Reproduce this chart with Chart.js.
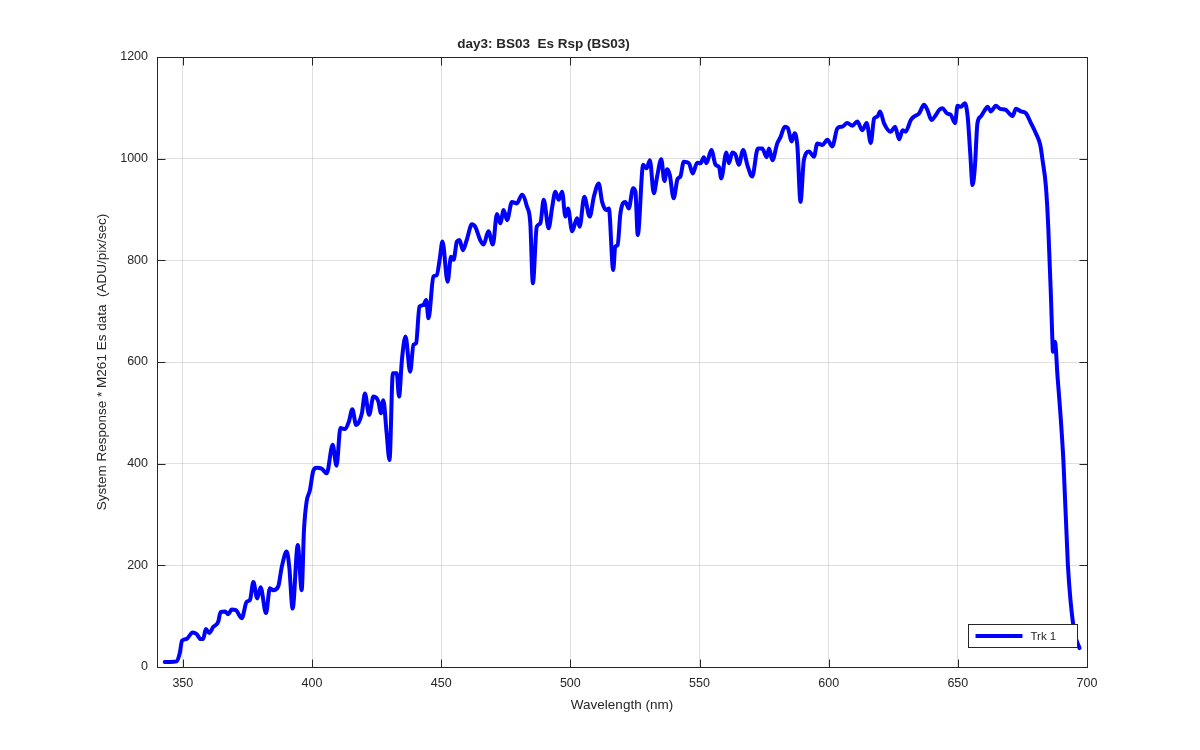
<!DOCTYPE html>
<html>
<head>
<meta charset="utf-8">
<script src="https://cdn.jsdelivr.net/npm/chart.js@4.4.1/dist/chart.umd.min.js"></script>
<style>
  html, body { margin: 0; padding: 0; background: #fff; }
  #wrap { width: 1200px; height: 750px; }
</style>
</head>
<body>
<div id="wrap"><canvas id="chartRsp"></canvas></div>
<script>
// wavelength (nm)
const wavelength = [
    343.0, 345.0, 347.6, 348.8, 349.7, 351.4, 353.8, 355.3, 356.9, 357.9,
    358.9, 360.2, 361.8, 363.7, 364.6, 366.3, 367.6, 368.9, 370.5, 372.8,
    374.7, 376.0, 377.3, 378.8, 380.1, 382.2, 383.7, 385.0, 386.9, 388.3,
    390.2, 391.2, 392.5, 394.5, 396.0, 396.9, 397.9, 399.2, 400.5, 401.8,
    403.8, 405.7, 408.0, 409.5, 411.0, 412.8, 414.3, 415.6, 417.1, 419.3,
    420.5, 422.1, 423.8, 425.7, 426.7, 427.6, 428.9, 430.0, 431.3, 432.8,
    433.7, 434.8, 436.2, 438.0, 439.3, 440.3, 441.6, 443.1, 444.2, 445.1,
    447.0, 448.3, 449.4, 450.5, 452.5, 453.8, 454.8, 456.1, 457.1, 458.4,
    459.9, 461.9, 463.2, 465.1, 466.4, 468.3, 470.0, 471.6, 472.9, 474.2,
    475.5, 477.4, 479.3, 481.3, 483.2, 484.5, 485.5, 487.0, 488.4, 489.7,
    491.6, 492.9, 494.2, 495.5, 496.8, 498.1, 499.1, 500.7, 502.6, 503.6,
    505.4, 507.5, 509.1, 511.0, 512.3, 514.0, 514.9, 516.6, 517.4, 518.3,
    519.4, 521.3, 522.6, 524.3, 525.2, 526.1, 528.2, 529.5, 530.8, 532.3,
    533.6, 535.2, 536.4, 537.5, 538.5, 540.0, 541.5, 542.6, 543.9, 545.9,
    547.4, 549.1, 550.4, 551.7, 552.7, 554.6, 556.2, 557.6, 558.4, 560.4,
    561.4, 562.7, 564.0, 565.2, 566.9, 568.5, 570.4, 572.6, 574.3, 576.0,
    576.9, 578.2, 580.1, 581.4, 583.0, 584.2, 585.7, 586.8, 587.9, 589.1,
    590.4, 592.4, 594.3, 595.6, 597.6, 599.5, 601.4, 603.4, 605.3, 607.2,
    609.2, 611.1, 613.0, 614.7, 616.3, 617.6, 618.9, 619.9, 621.4, 624.0,
    625.7, 627.3, 628.6, 629.8, 631.8, 633.1, 635.0, 636.9, 638.2, 639.8,
    641.5, 642.8, 644.1, 645.8, 647.3, 648.9, 649.9, 651.2, 652.7, 653.8,
    654.8, 655.7, 656.6, 657.6, 658.9, 660.5, 661.5, 662.8, 664.7, 666.4,
    668.6, 669.9, 671.2, 672.5, 674.4, 676.4, 678.3, 680.2, 681.9, 682.8,
    684.1, 685.0, 686.0, 686.6, 686.8, 687.6, 688.6, 689.6, 690.9, 692.6,
    693.6, 695.2, 697.1
];

// system response * M261 Es data (ADU/pix/sec)
const response = [
    10, 10, 11, 27, 52, 55, 68, 65, 55, 55,
    75, 67, 79, 89, 108, 109, 104, 113, 112, 96,
    128, 132, 167, 135, 157, 106, 155, 151, 158, 197,
    227, 197, 115, 240, 151, 270, 325, 348, 386, 392,
    390, 381, 437, 396, 470, 468, 483, 507, 476, 499,
    538, 496, 532, 522, 499, 525, 460, 407, 578, 578,
    532, 604, 650, 581, 634, 637, 709, 712, 722, 686,
    768, 771, 801, 837, 758, 807, 801, 837, 840, 820,
    840, 871, 866, 840, 831, 857, 831, 891, 873, 899,
    879, 915, 912, 929, 906, 873, 755, 866, 873, 919,
    863, 902, 935, 919, 935, 886, 902, 857, 883, 866,
    925, 886, 925, 951, 915, 899, 902, 781, 827, 830,
    893, 915, 902, 942, 935, 850, 988, 981, 997, 932,
    965, 999, 956, 979, 968, 922, 960, 965, 994, 991,
    971, 992, 991, 1003, 991, 1017, 988, 983, 961, 1012,
    991, 1012, 1007, 988, 1017, 988, 965, 1020, 1020, 1003,
    1020, 997, 1030, 1043, 1063, 1060, 1034, 1050, 1024, 915,
    997, 1014, 1004, 1030, 1027, 1037, 1024, 1060, 1063, 1070,
    1065, 1073, 1056, 1070, 1031, 1079, 1083, 1093, 1070, 1053,
    1063, 1038, 1056, 1053, 1076, 1083, 1089, 1106, 1096, 1076,
    1086, 1096, 1099, 1089, 1086, 1070, 1104, 1102, 1109, 1083,
    1011, 948, 984, 1070, 1083, 1096, 1102, 1093, 1104, 1098,
    1096, 1089, 1084, 1098, 1093, 1089, 1070, 1050, 1027, 997,
    945, 866, 735, 643, 620, 640, 571, 506, 402, 201,
    132, 66, 37
];

const xTicks = [350, 400, 450, 500, 550, 600, 650, 700];
const yTicks = [0, 200, 400, 600, 800, 1000, 1200];

const titulo = 'day3: BS03  Es Rsp (BS03)';
const etiquetaX = 'Wavelength (nm)';
const etiquetaY = 'System Response * M261 Es data  (ADU/pix/sec)';
const serie = 'Trk 1';

const tinta = '#262626';
const fuente = "'Liberation Sans', Arial, sans-serif";

let puntos = [];
wavelength.forEach((w, i) => {
    puntos.push({ x: w, y: response[i] });
});

// caja con ticks hacia dentro (estilo MATLAB) + leyenda
const cajaPlugin = {
    id: 'caja',
    afterDraw(chart) {
        const { ctx, chartArea: a, scales } = chart;
        const L = Math.round(a.left) + 0.5, R = Math.round(a.right) + 0.5;
        const T = Math.round(a.top) + 0.5, B = Math.round(a.bottom) + 0.5;
        const len = 8;
        ctx.save();
        ctx.strokeStyle = tinta;
        ctx.lineWidth = 1;
        ctx.strokeRect(L, T, R - L, B - T);
        ctx.beginPath();
        xTicks.forEach(v => {
            const px = Math.round(scales.x.getPixelForValue(v)) + 0.5;
            ctx.moveTo(px, B); ctx.lineTo(px, B - len);
            ctx.moveTo(px, T); ctx.lineTo(px, T + len);
        });
        yTicks.forEach(v => {
            const py = Math.round(scales.y.getPixelForValue(v)) + 0.5;
            ctx.moveTo(L, py); ctx.lineTo(L + len, py);
            ctx.moveTo(R, py); ctx.lineTo(R - len, py);
        });
        ctx.stroke();

        // leyenda abajo a la derecha
        const w = 109, h = 23;
        const lx = R - 10 - w, ly = B - 20 - h;
        ctx.fillStyle = '#fff';
        ctx.fillRect(lx, ly, w, h);
        ctx.strokeRect(lx, ly, w, h);
        const ds = chart.data.datasets[0];
        ctx.beginPath();
        ctx.strokeStyle = ds.borderColor;
        ctx.lineWidth = ds.borderWidth;
        ctx.moveTo(lx + 7, ly + h / 2);
        ctx.lineTo(lx + 54, ly + h / 2);
        ctx.stroke();
        ctx.fillStyle = tinta;
        ctx.font = '11.5px ' + fuente;
        ctx.textBaseline = 'middle';
        ctx.fillText(ds.label, lx + 62, ly + h / 2 + 0.5);
        ctx.restore();
    }
};

const ctx = document.getElementById('chartRsp');
const chartRsp = new Chart(ctx, {
    type: 'line',
    data: {
        datasets: [{
            label: serie,
            data: puntos,
            borderColor: '#0000ff',
            borderWidth: 4,
            borderJoinStyle: 'round',
            borderCapStyle: 'round',
            pointRadius: 0,
            cubicInterpolationMode: 'monotone',
            fill: false
        }]
    },
    options: {
        responsive: true,
        maintainAspectRatio: false,
        animation: false,
        layout: { padding: { left: 0, right: 113, top: 0, bottom: 0 } },
        scales: {
            x: {
                type: 'linear',
                min: 340,
                max: 700,
                afterBuildTicks: (scale) => { scale.ticks = xTicks.map(v => ({ value: v })); },
                afterFit: (scale) => { scale.height = 83; },
                border: { display: false },
                grid: { color: 'rgba(38,38,38,0.15)', drawTicks: false },
                ticks: {
                    color: tinta, padding: 9.5, maxRotation: 0,
                    font: { family: fuente, size: 12.5 },
                    callback: (v) => String(v)
                },
                title: {
                    display: true,
                    text: etiquetaX,
                    color: tinta,
                    font: { family: fuente, size: 13.5 },
                    padding: { top: 0, bottom: 37 }
                }
            },
            y: {
                min: 0,
                max: 1200,
                afterBuildTicks: (scale) => { scale.ticks = yTicks.map(v => ({ value: v })); },
                afterFit: (scale) => { scale.width = 157; },
                border: { display: false },
                grid: { color: 'rgba(38,38,38,0.15)', drawTicks: false },
                ticks: {
                    color: tinta, padding: 9,
                    font: { family: fuente, size: 12.5 },
                    callback: (v) => String(v)
                },
                title: {
                    display: true,
                    text: etiquetaY,
                    color: tinta,
                    font: { family: fuente, size: 13.5 },
                    padding: { top: 94, bottom: 0 }
                }
            }
        },
        plugins: {
            legend: { display: false },
            tooltip: { enabled: false },
            title: {
                display: true,
                text: titulo,
                color: tinta,
                font: { family: fuente, size: 13.5, weight: 'bold' },
                padding: { top: 36, bottom: 4.8 }
            }
        }
    },
    plugins: [cajaPlugin]
});
</script>
</body>
</html>
